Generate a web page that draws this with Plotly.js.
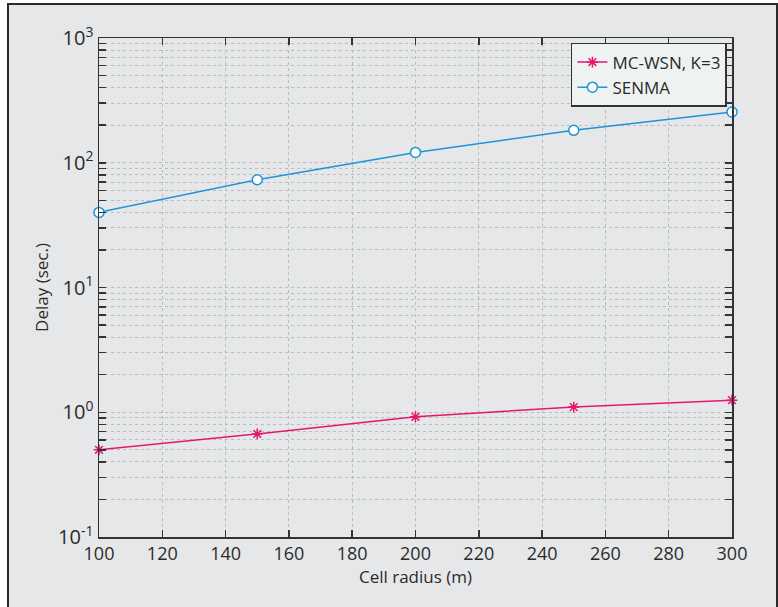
<!DOCTYPE html>
<html>
<head>
<meta charset="utf-8">
<script src="https://cdn.plot.ly/plotly-3.0.1.min.js"></script>
<style>
html,body{margin:0;padding:0;background:#ffffff;}
#chart{width:778px;height:607px;}
</style>
</head>
<body>
<div id="chart"></div>
<script>
// Data
var cellRadius = [100, 150, 200, 250, 300];
var mcWsnDelay = [0.50, 0.67, 0.92, 1.10, 1.25];
var senmaDelay = [40, 73, 121, 182, 255];
var seriesNames = ['MC-WSN, K=3', 'SENMA'];
var xTickVals = [100, 120, 140, 160, 180, 200, 220, 240, 260, 280, 300];
var yDecades = [-1, 0, 1, 2, 3];
var yDecadeLabels = ['10<sup>-1</sup>', '10<sup>0</sup>', '10<sup>1</sup>', '10<sup>2</sup>', '10<sup>3</sup>'];

// Major ticks at powers of ten, minor ticks at 2..9 within each decade
var yTickVals = [], yMinorVals = [];
for (var d = 0; d < yDecades.length; d++) {
  var base = Math.pow(10, yDecades[d]);
  yTickVals.push(base);
  if (d < yDecades.length - 1) {
    for (var m = 2; m <= 9; m++) yMinorVals.push(m * base);
  }
}

var FONT = 'Open Sans, DejaVu Sans, sans-serif';
var TXT = '#2b2b2b';
var pink = '#e8156f';
var blue = '#1b95d6';
var gridCol = '#b9bebc';

var traces = [
  {
    x: cellRadius, y: mcWsnDelay, name: seriesNames[0],
    type: 'scatter', mode: 'lines+markers', cliponaxis: false,
    line: {color: pink, width: 1.5},
    marker: {symbol: 'asterisk-open', size: 9, color: pink, line: {color: pink, width: 1.5}}
  },
  {
    x: cellRadius, y: senmaDelay, name: seriesNames[1],
    type: 'scatter', mode: 'lines+markers', cliponaxis: false,
    line: {color: blue, width: 1.5},
    marker: {symbol: 'circle', size: 10, color: '#ffffff', line: {color: blue, width: 1.5}}
  }
];

var axisCommon = {
  showline: true, linecolor: '#333333', linewidth: 1.5, mirror: 'ticks',
  ticks: 'inside', ticklen: 7, tickwidth: 1.5, tickcolor: '#333333',
  showgrid: true, gridcolor: gridCol, griddash: 'dot', gridwidth: 1,
  zeroline: false,
  tickfont: {family: FONT, size: 18, color: TXT}
};

var layout = {
  width: 778, height: 607,
  margin: {l: 99, r: 46, t: 38, b: 70},
  paper_bgcolor: '#ffffff',
  plot_bgcolor: '#d5e3df',
  showlegend: true,
  font: {family: FONT, color: TXT},
  xaxis: Object.assign({}, axisCommon, {
    type: 'linear', range: [100, 300],
    tickmode: 'array', tickvals: xTickVals,
    title: {text: 'Cell radius (m)', font: {family: FONT, size: 17, color: TXT}, standoff: 6}
  }),
  yaxis: Object.assign({}, axisCommon, {
    type: 'log', range: [-1, 3],
    tickmode: 'array', tickvals: yTickVals, ticktext: yDecadeLabels,
    tickfont: {family: FONT, size: 20, color: TXT},
    minor: {
      tickmode: 'array', tickvals: yMinorVals,
      ticks: 'inside', ticklen: 7, tickwidth: 1.5, tickcolor: '#333333',
      showgrid: true, gridcolor: gridCol, griddash: 'dot', gridwidth: 1
    },
    title: {text: 'Delay (sec.)', font: {family: FONT, size: 17, color: TXT}, standoff: 5}
  }),
  legend: {
    x: 0.992, y: 0.99, xanchor: 'right', yanchor: 'top',
    bgcolor: '#eef3f2', bordercolor: '#333333', borderwidth: 1.5,
    font: {family: FONT, size: 17, color: TXT},
    tracegroupgap: 0, itemwidth: 30
  },
  shapes: [
    {
      type: 'rect', xref: 'paper', yref: 'paper', layer: 'below',
      x0: (8 - 99) / 633, x1: (777 - 99) / 633,
      y0: (537 - 620) / 499, y1: (537 - 4) / 499,
      fillcolor: '#e6e7e9', line: {color: '#2a2a2a', width: 2}
    }
  ]
};

Plotly.newPlot('chart', traces, layout, {displayModeBar: false, staticPlot: true});
</script>
</body>
</html>
